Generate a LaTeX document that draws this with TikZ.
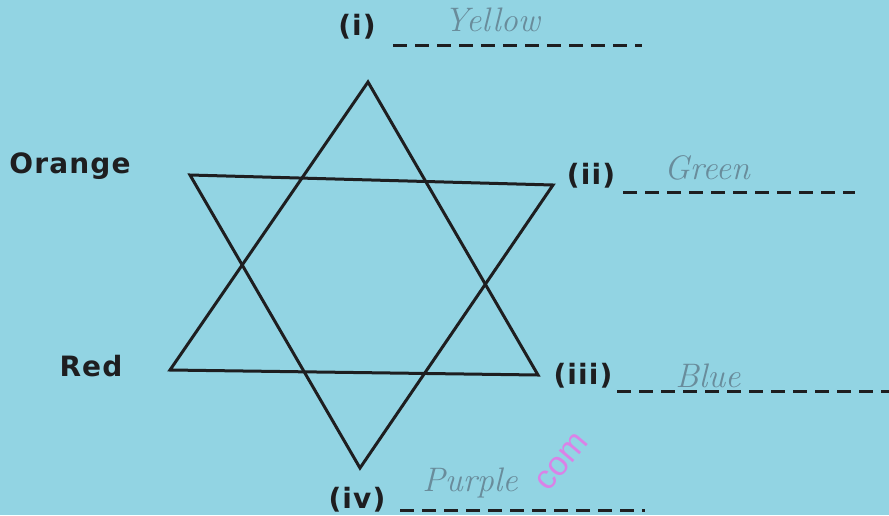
\documentclass[tikz,border=0pt]{standalone}
\usepackage{fontspec}
\usepackage{tikz}
\newfontfamily\labelfont[LetterSpace=4.0]{DejaVu Sans}
\newfontfamily\markfont{Liberation Sans}
\definecolor{paper}{RGB}{146,212,227}
\definecolor{ink}{RGB}{30,30,32}
\definecolor{pencil}{RGB}{105,140,155}
\definecolor{stamp}{RGB}{236,110,232}

\begin{document}
\begin{tikzpicture}[x=1pt,y=-1pt,
  every node/.style={inner sep=0pt},
  edge/.style={draw=ink,line width=3pt,line join=miter},
  lbl/.style={font=\labelfont\bfseries\fontsize{28}{28}\selectfont,text=ink},
  hand/.style={font=\itshape\fontsize{34}{34}\selectfont,text=pencil},
  answerline/.style={draw=ink,line width=3pt,dash pattern=on 14pt off 8pt}]
\fill[paper] (0,0) rectangle (889,515);
\useasboundingbox (0,0) rectangle (889,515);
% star corners
\coordinate (v0) at (368, 82);
\coordinate (v1) at (190, 175);
\coordinate (v2) at (553, 185);
\coordinate (v3) at (170, 370);
\coordinate (v4) at (538, 375);
\coordinate (v5) at (360, 468);
\draw[edge] (v0) -- (v3) -- (v4) -- cycle;
\draw[edge] (v1) -- (v2) -- (v5) -- cycle;
% labels
\node[lbl] (n0) at (70, 166) {Orange};
\node[lbl] (n1) at (91, 366) {Red};
\node[lbl] (n2) at (357, 27) {(i)};
\node[lbl] (n3) at (591, 176) {(ii)};
\node[lbl] (n4) at (583, 376) {(iii)};
\node[lbl] (n5) at (357, 500) {(iv)};
% answer lines
\coordinate (e2) at (642, 45);
\coordinate (e3) at (855, 192);
\coordinate (e4) at (889, 391);
\coordinate (e5) at (645, 510);
\draw[answerline] (393, 45) -- (e2);
\draw[answerline] (623, 192) -- (e3);
\draw[answerline] (617, 391) -- (e4);
\draw[answerline] (400, 510) -- (e5);
% pencil answers
\node[hand] (a2) at (492, 20) {Yellow};
\node[hand] (a3) at (707, 168) {Green};
\node[hand] (a4) at (708, 376) {Blue};
\node[hand] (a5) at (470, 483) {Purple};
% watermark
\node[font=\markfont\fontsize{34}{34}\selectfont,text=stamp,opacity=0.8,rotate=50] (wm) at (562, 462) {com};
\end{tikzpicture}
\end{document}
